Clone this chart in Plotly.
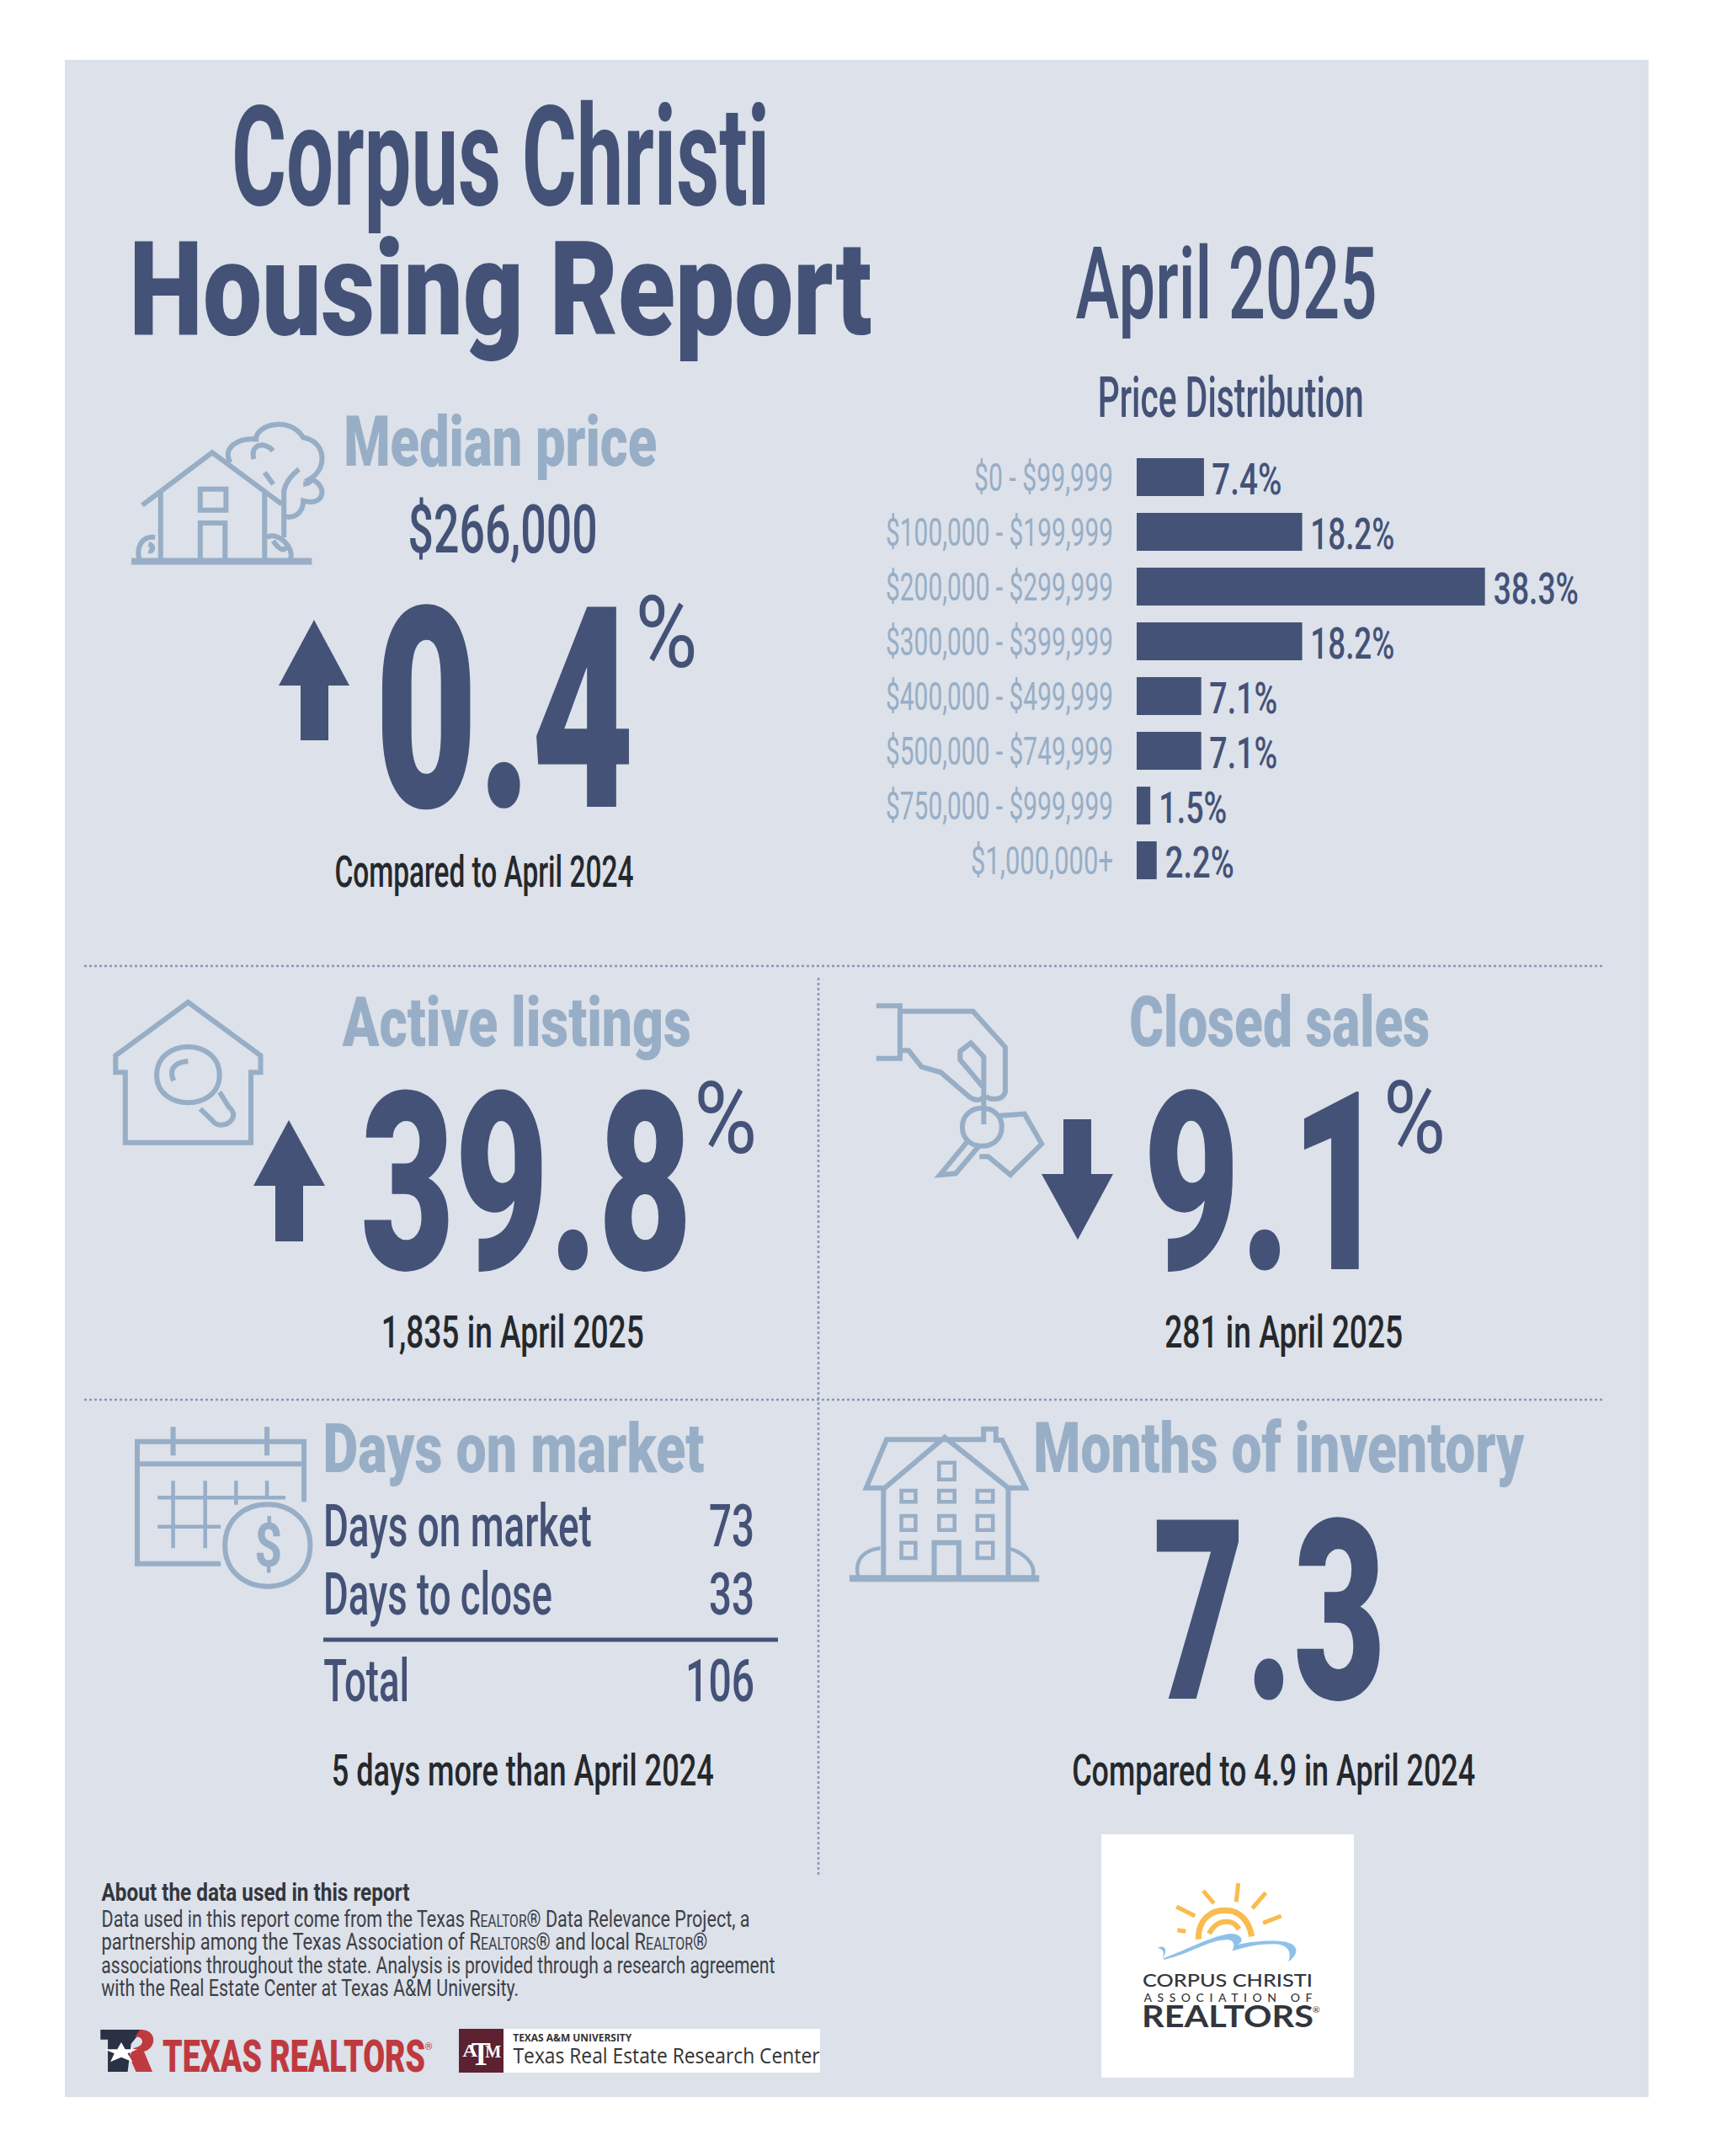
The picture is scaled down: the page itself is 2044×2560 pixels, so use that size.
import re, json
import plotly.graph_objects as go

# ---------- data ----------
PRICE_BANDS = ["$0 - $99,999", "$100,000 - $199,999", "$200,000 - $299,999", "$300,000 - $399,999",
               "$400,000 - $499,999", "$500,000 - $749,999", "$750,000 - $999,999", "$1,000,000+"]
PRICE_SHARE = [7.4, 18.2, 38.3, 18.2, 7.1, 7.1, 1.5, 2.2]
MEDIAN_PRICE = "$266,000"
MEDIAN_CHANGE = "0.4"
LISTINGS_CHANGE = "39.8"
SALES_CHANGE = "9.1"
MONTHS_INVENTORY = "7.3"
DAYS_ROWS = ["Days on market", "Days to close", "Total"]
DAYS_VALUES = ["73", "33", "106"]

# ---------- palette / fonts ----------
BG = "#dce1ea"; NAVY = "#445277"; LIGHT = "#97aec6"; DARK = "#25282c"
NARROW = "Roboto"
W, H = 2044, 2560

fig = go.Figure()
# pixel canvas for decoration (drawn first, so its below-layer panel sits under the bars)
fig.add_trace(go.Scatter(x=[0, W], y=[0, H], mode="none", hoverinfo="skip", showlegend=False))
# bars on a real axis
PX_PER_PCT = 10.8
BAR_L, BAR_R = 1350, 1900
ROW_T, ROW_B = 534, 1054
fig.add_trace(go.Bar(x=PRICE_SHARE, y=PRICE_BANDS, orientation="h", xaxis="x2", yaxis="y2",
                     marker=dict(color=NAVY, line_width=0), width=0.69, hoverinfo="skip", showlegend=False))

fit = {}
ann = []
shapes = []

def strip(t):
    return re.sub(r"<[^>]+>", "", t)

def label(text, left, right, base, size, color=NAVY, weight=700, family=NARROW, mode="spacingAndGlyphs", desc=0.244):
    fit[f"{strip(text)}@{size:g}"] = [right - left, mode]
    ann.append(dict(text=text, x=(left + right) / 2, y=base + desc * size + 2, xref="x", yref="y",
                    xanchor="center", yanchor="bottom", showarrow=False,
                    font=dict(family=family, size=size, color=color, weight=weight)))

def poly(points, color=NAVY):
    d = "M" + " L".join(f"{x},{y}" for x, y in points) + " Z"
    shapes.append(dict(type="path", path=d, xref="x", yref="y", fillcolor=color, line_width=0))

def icon(d, ox, oy, sx, sy, width=6, color=LIGHT, fill=None):
    """Stroke an SVG path authored in the zoom-crop coordinates."""
    toks = re.findall(r"[A-Za-z]|-?\d+\.?\d*", d)
    out = []; xy = 0
    for t in toks:
        if t.isalpha():
            out.append(t); xy = 0
        else:
            v = float(t)
            out.append(f"{ox + v / sx:.1f}" if xy == 0 else f"{oy + v / sy:.1f}")
            xy ^= 1
    s = ""
    for t in out:
        s += (t if t.isalpha() else t + " ")
    sh = dict(type="path", path=s, xref="x", yref="y", line=dict(color=color, width=width))
    if fill:
        sh["fillcolor"] = fill; sh["line"] = dict(width=0)
    shapes.append(sh)

# panel + white boxes
shapes.append(dict(type="rect", x0=77, x1=1958, y0=71, y1=2490, xref="x", yref="y", fillcolor=BG, line_width=0, layer="below"))
shapes.append(dict(type="rect", x0=1308, x1=1608, y0=2178, y1=2467, xref="x", yref="y", fillcolor="#ffffff", line_width=0, layer="below"))
shapes.append(dict(type="rect", x0=598, x1=974, y0=2409, y1=2461, xref="x", yref="y", fillcolor="#ffffff", line_width=0, layer="below"))
shapes.append(dict(type="rect", x0=545, x1=598, y0=2409, y1=2461, xref="x", yref="y", fillcolor="#5d2232", line_width=0, layer="below"))

# dividers
for (x0, y0, x1, y1) in [(100, 1147, 1905, 1147), (100, 1662, 1905, 1662), (972, 1161, 972, 2226)]:
    shapes.append(dict(type="line", x0=x0, x1=x1, y0=y0, y1=y1, xref="x", yref="y",
                       line=dict(color="#8a97b4", width=2.5, dash="dot"), layer="below"))
shapes.append(dict(type="line", x0=384, x1=924, y0=1947, y1=1947, xref="x", yref="y", line=dict(color=NAVY, width=5)))

# headline text
label("Corpus Christi", 275, 914, 243, 165)
label("Housing Report", 153, 1035, 397, 155, weight=900)
label("April 2025", 1277, 1635, 378, 118, weight=500)
label("Price Distribution", 1303, 1619, 495, 66, weight=500)

# median block
label("Median price", 408, 780, 553, 84, LIGHT, weight=900)
label(MEDIAN_PRICE, 484, 709, 656, 80, NAVY, weight=500)
label(MEDIAN_CHANGE, 445, 753, 958, 334, weight=900)
label("%", 754, 828, 792, 119, NAVY, weight=400)
label("Compared to April 2024", 397, 752, 1053, 51, DARK, weight=500)
poly([(373, 736), (415, 814), (390, 814), (390, 879), (357, 879), (357, 814), (331, 814)])

# listings
label("Active listings", 406, 820, 1242, 82, LIGHT, weight=900)
label(LISTINGS_CHANGE, 428, 822, 1507, 296, weight=900)
label("%", 824, 899, 1369, 119.5, NAVY, weight=400)
label("1,835 in April 2025", 453, 765, 1600, 53, DARK, weight=500)
poly([(343, 1330), (386, 1408), (360, 1408), (360, 1474), (327, 1474), (327, 1408), (301, 1408)])

# sales
label("Closed sales", 1341, 1698, 1242, 82.5, LIGHT, weight=900)
label(SALES_CHANGE, 1357, 1647, 1507, 296.5, weight=900)
label("%", 1643, 1717, 1369, 120, NAVY, weight=400)
label("281 in April 2025", 1383, 1666, 1600, 53.5, DARK, weight=500)
poly([(1280, 1472), (1322, 1394), (1296, 1394), (1296, 1329), (1263, 1329), (1263, 1394), (1237, 1394)])

# days on market
label("Days on market", 383, 836, 1748, 82, LIGHT, weight=900)
rows = [(DAYS_ROWS[0], DAYS_VALUES[0], 703, 842, 1836), (DAYS_ROWS[1], DAYS_VALUES[1], 656, 842, 1917), (DAYS_ROWS[2], DAYS_VALUES[2], 486, 814, 2020)]
for name, val, right, vl, base in rows:
    label(name, 384, right, base, 70, NAVY, weight=500)
    label(val, vl, 896, base, 70.5, NAVY, weight=500)
label("5 days more than April 2024", 393, 847, 2120, 52, DARK, weight=500)

# months
label("Months of inventory", 1228, 1811, 1748, 83, LIGHT, weight=900)
label(MONTHS_INVENTORY, 1369, 1646, 2017, 299, weight=900)
label("Compared to 4.9 in April 2024", 1273, 1752, 2120, 51.5, DARK, weight=500)

# about text
label("About the data used in this report", 120, 486, 2257, 30, "#33363c")
SC = '<span style="font-size:20px">'
about = [
    (f"Data used in this report come from the Texas R{SC}EALTOR</span>® Data Relevance Project, a", 120, 890, 2288),
    (f"partnership among the Texas Association of R{SC}EALTORS</span>® and local R{SC}EALTOR</span>®", 120, 840, 2315),
    ("associations throughout the state. Analysis is provided through a research agreement", 120, 920, 2343),
    ("with the Real Estate Center at Texas A&M University.", 120, 616, 2370),
]
for t, l, r, b in about:
    label(t, l, r, b, 27.5, "#3d4046", weight=400)

# logos text
label("TEXAS REALTORS", 193, 505, 2460, 53, "#bf3a3f", weight=900)
label("®", 505, 512, 2434, 10, "#bf3a3f", weight=400)
label("TEXAS A&M UNIVERSITY", 609, 750, 2424, 13, "#333333", family="Open Sans", desc=0.29)
label("Texas Real Estate Research Center", 609, 973, 2450, 25, "#333333", weight=400, family="Open Sans", desc=0.29)
label("T", 560, 583, 2452, 40, "#ffffff", family="Liberation Serif", desc=0.22)
label("A", 549, 567, 2442, 20, "#ffffff", family="Liberation Serif", desc=0.22)
label("M", 576, 595, 2442, 20.5, "#ffffff", family="Liberation Serif", desc=0.22)
label("CORPUS CHRISTI", 1357, 1559, 2359, 21, "#33363c", weight=500, family="Lato", desc=0.2)
label("ASSOCIATION OF", 1358, 1558, 2377, 14, "#33363c", weight=500, family="Lato", desc=0.2, mode="spacing")
label("REALTORS", 1356, 1560, 2408, 37, "#33363c", family="Lato", desc=0.2)
label("®", 1558, 1567, 2390, 10, "#33363c", weight=400, family="Lato", desc=0.2)
label("$", 302, 335, 1860, 72, LIGHT)

# bar value labels, anchored to the bar ends through the axis
VALUE_W = {"7.4": 83, "18.2": 100, "38.3": 101, "7.1": 81, "1.5": 81, "2.2": 82}
for cat, v in zip(PRICE_BANDS, PRICE_SHARE):
    txt = f"{v}%"
    w = VALUE_W[str(v)]
    fit[f"{txt}@51"] = [w, "spacingAndGlyphs"]
    ann.append(dict(text=txt, x=v, y=cat, xref="x2", yref="y2", xanchor="center", yanchor="bottom", showarrow=False,
                    xshift=10 + w / 2, yshift=-34, font=dict(family=NARROW, size=51, color=NAVY, weight=500)))
TICK_W = {"$0 - $99,999": 165, "$1,000,000+": 169}
for c in PRICE_BANDS:
    fit[f"{c}@46"] = [TICK_W.get(c, 270), "spacingAndGlyphs"]

# ---------- icons ----------
# house and tree
z = (100, 480, 1.96, 2.53)
icon("M110,472 L530,472", *z, width=8)
icon("M135,303 L298,145 L460,300", *z)
icon("M178,265 L178,470 M420,265 L420,470", *z)
icon("M270,255 L330,255 L330,318 L270,318 Z", *z)
icon("M270,470 L270,357 L328,357 L328,470", *z)
icon("M128,465 C120,420 140,395 165,400 M150,440 C160,445 165,425 150,420", *z)
icon("M425,400 C450,380 490,430 480,465 M440,410 C455,440 465,440 470,430", *z)
icon("M340,175 C320,130 360,100 400,105 C400,60 480,35 510,100 C560,110 570,190 525,225 C565,235 565,310 510,290 C510,335 480,345 465,335", *z)
icon("M465,400 L465,260 C470,230 485,210 500,195 M420,205 L440,240 M395,165 C385,120 420,110 440,140", *z)
icon("M510,240 C520,240 530,230 530,225", *z)
# search house
z = (100, 1160, 1.742, 3.0)
icon("M65,340 L65,280 L215,90 L365,280 L365,340 L345,340 L345,590 L85,590 L85,340 Z", *z)
icon("M150,350 C150,215 280,215 280,350 C280,480 150,480 150,350 Z", *z)
icon("M240,470 L270,520 C290,545 325,500 300,465 L280,410 M185,370 C175,330 185,305 215,300", *z)
# keys
z = (1000, 1160, 1.96, 3.0)
icon("M80,103 L135,103 L135,290 L80,290 M135,122 L305,122 L380,250 L380,410 C375,440 345,440 335,425", *z)
icon("M135,262 L155,262 L185,320 L230,340 L295,425 C310,445 330,440 330,420 L330,285 L300,235 L275,265 L275,295 L330,395", *z)
icon("M330,420 L330,525", *z)
icon("M280,535 C280,445 372,445 372,535 C372,625 280,625 280,535 Z", *z)
icon("M290,590 L228,705 L265,700 L320,600 M360,495 L425,488 L465,595 L392,705 L340,640 L320,640", *z)
# calendar
z = (130, 1660, 1.363, 3.0)
icon("M180,590 L45,590 L45,155 L315,155 L315,370 M45,235 L315,235 M103,103 L103,205 M255,103 L255,205", *z)
icon("M78,355 L285,355 M78,458 L180,458 M103,295 L103,535 M155,295 L155,535 M205,295 L205,380 M255,295 L255,350", *z, width=4.5)
icon("M187,525 C187,330 325,330 325,525 C325,720 187,720 187,525 Z", *z)
# building
icon("M1198,643 L1505,643", *z, width=8)
icon("M1253,320 L1253,640 M1455,320 L1455,640", *z)
icon("M1225,320 L1258,148 L1415,148 L1415,110 L1435,110 L1435,150 L1445,150 L1483,320 L1455,320 L1352,140 L1255,320 Z", *z)
icon("M1335,640 L1335,515 L1375,515 L1375,640", *z)
for xa, xb in [(1282, 1305), (1343, 1368), (1405, 1430)]:
    for ya, yb in [(330, 370), (420, 470)]:
        icon(f"M{xa},{ya} L{xb},{ya} L{xb},{yb} L{xa},{yb} Z", *z, width=4.5)
for xa, xb in [(1282, 1305), (1405, 1430)]:
    icon(f"M{xa},515 L{xb},515 L{xb},570 L{xa},570 Z", *z, width=4.5)
icon("M1343,230 L1368,230 L1368,290 L1343,290 Z", *z, width=4.5)
icon("M1212,635 C1205,570 1225,540 1248,535 M1455,535 C1480,550 1500,590 1495,635", *z, width=4.5)

# Corpus Christi Realtors logo
z = (1280, 2160, 3.0, 3.0)
for d in ["M352,312 L418,345", "M447,255 L485,300", "M572,228 L565,295", "M670,262 L622,318", "M725,345 L660,370", "M355,395 L385,400"]:
    icon(d, *z, width=5, color="#f9bc4d")
icon("M430,428 C430,350 480,325 525,325 C575,325 610,360 620,418", *z, width=7, color="#f9bc4d")
icon("M468,408 C485,375 510,365 530,365 C550,365 565,375 575,392", *z, width=6, color="#f9bc4d")
icon("M285,458 C315,445 320,470 302,497 C400,460 480,415 545,408 C590,410 595,440 565,448 C640,430 720,430 750,440 C785,450 790,480 750,508 C765,470 745,445 700,445 C640,445 600,455 550,470 C560,450 560,430 530,430 C470,430 400,480 310,500 C290,497 325,470 285,458 Z",
     *z, fill="#8fc1e8")
# Texas Realtors mark
z = (90, 2200, 1.704, 3.0)
icon("M50,630 L135,630 L112,680 L105,780 L65,780 L65,665 L50,665 Z", *z, fill="#2a3145")
icon("M130,630 C165,628 165,695 138,708 L155,780 L122,780 L108,725 L118,695 C140,690 140,655 120,655 Z", *z, fill="#bf3a3f")
icon("M92,675 L100,700 L125,700 L105,715 L115,745 L92,728 L70,745 L78,715 L58,700 L84,700 Z", *z, fill="#ffffff")

# ---------- layout ----------
fig.update_layout(
    width=W, height=H, margin=dict(l=0, r=0, t=0, b=0), paper_bgcolor="#ffffff", plot_bgcolor="rgba(0,0,0,0)",
    showlegend=False, shapes=shapes, annotations=ann,
    xaxis=dict(domain=[0, 1], range=[0, W], visible=False, anchor="y", fixedrange=True),
    yaxis=dict(domain=[0, 1], range=[H, 0], visible=False, anchor="x", fixedrange=True),
    xaxis2=dict(domain=[BAR_L / W, BAR_R / W], range=[0, (BAR_R - BAR_L) / PX_PER_PCT], visible=False, anchor="y2", fixedrange=True),
    yaxis2=dict(domain=[1 - ROW_B / H, 1 - ROW_T / H], range=[7.5, -0.5], categoryorder="array", categoryarray=PRICE_BANDS,
                tickfont=dict(family=NARROW, size=46, color=LIGHT), showline=False, showgrid=False, zeroline=False,
                ticks="", ticklabelstandoff=27, anchor="x2", fixedrange=True),
)

js = """
document.body.style.margin='0';
var FIT=%s;
var gd=document.getElementById('{plot_id}');
function fitText(){
  document.querySelectorAll('.main-svg text').forEach(function(t){
    var k=t.textContent+'@'+parseFloat(t.style.fontSize);
    var f=FIT[k];
    if(f){t.setAttribute('textLength',f[0]);t.setAttribute('lengthAdjust',f[1]);}
  });
}
fitText();
gd.on('plotly_afterplot',fitText);
""" % json.dumps(fit)
fig.write_html("out.html", post_script=js, config=dict(displayModeBar=False, responsive=False))
